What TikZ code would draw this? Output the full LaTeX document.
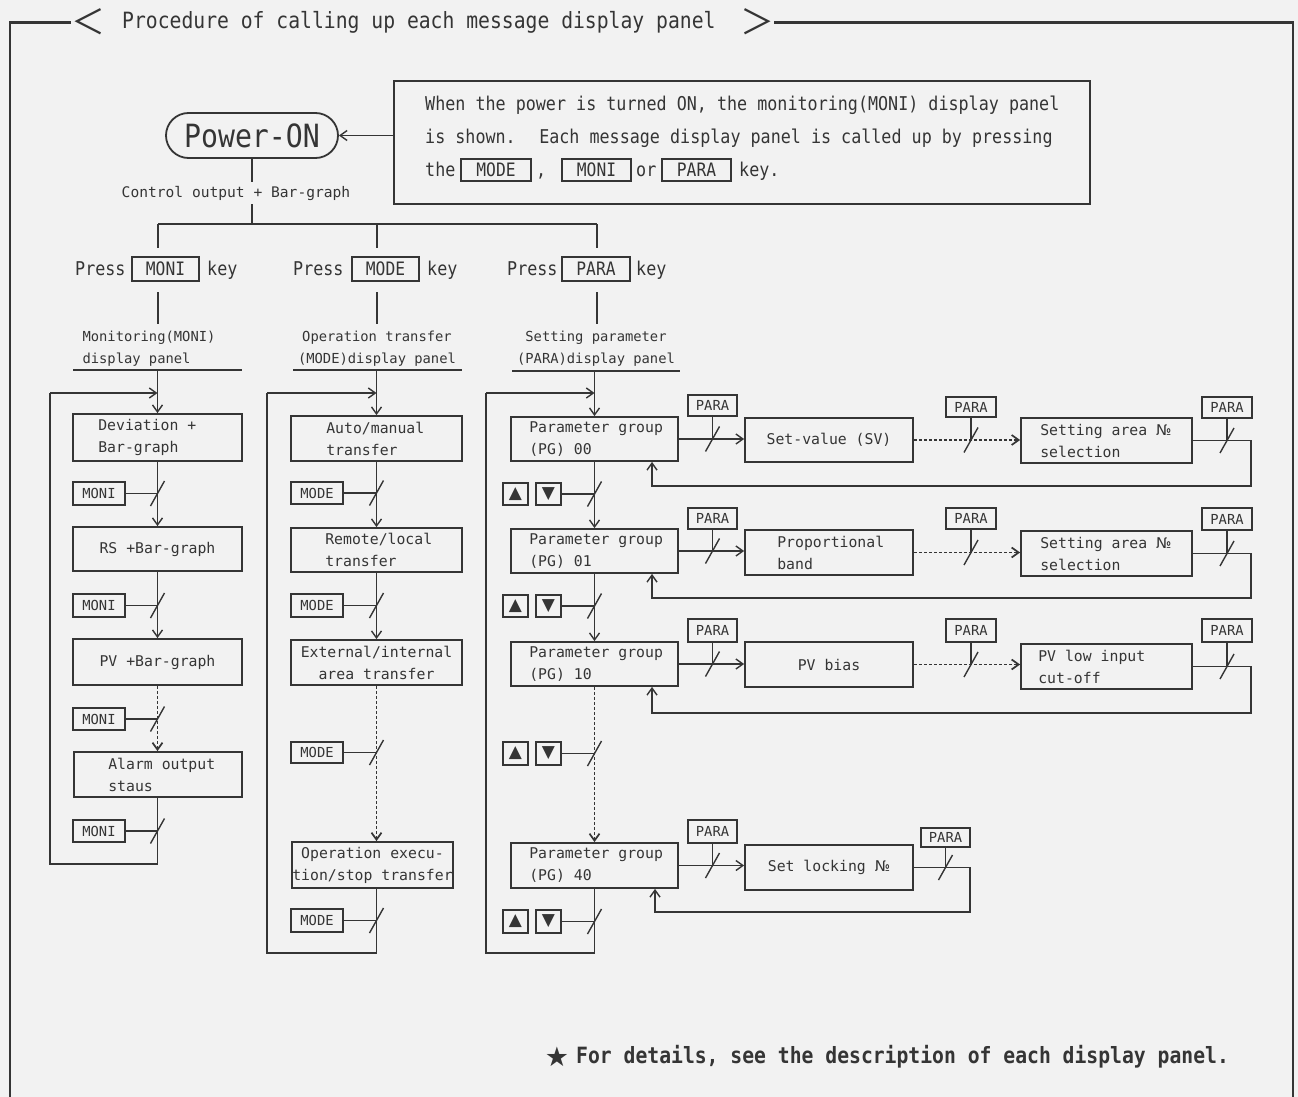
\documentclass[tikz,border=0pt]{standalone}
\usepackage{fontspec}
\usetikzlibrary{arrows.meta}
\newfontfamily\dm{DejaVu Sans Mono}
\newfontfamily\dmn[FakeStretch=0.88]{DejaVu Sans Mono}
\newfontfamily\dsans{DejaVu Sans}
\newfontfamily\cjkf{Noto Sans CJK JP}
\definecolor{ink}{HTML}{353535}
\definecolor{paper}{HTML}{F2F2F2}
\tikzset{kslash/.pic={\draw[draw=ink,line width=1.4pt] (-7,12.5) -- (7,-12.5);}}
\newcommand\bxl[7]{%
  \node[bx,minimum width={(#4)-(#2)},minimum height={(#5)-(#3)}] (#1) at ({((#2)+(#4))/2},{((#3)+(#5))/2}) {};
  \node[bt,anchor=west] (#1t) at ([xshift=#6]#1.west) {#7};}
\newcommand\bxc[6]{%
  \node[bx,bt,align=center,minimum width={(#4)-(#2)},minimum height={(#5)-(#3)}] (#1) at ({((#2)+(#4))/2},{((#3)+(#5))/2}) {#6};}
\newcommand\keyb[7][kb]{%
  \node[#1,minimum width={(#5)-(#3)},minimum height={(#6)-(#4)}] (#2) at ({((#3)+(#5))/2},{((#4)+(#6))/2}) {#7};}
\begin{document}
\begin{tikzpicture}[x=1pt,y=-1pt,
 ln/.style={draw=ink,line width=1.4pt},
 arr/.style={-{Straight Barb[length=7pt,width=10pt]}},
 dots/.style={line width=1.7pt,dash pattern=on 3pt off 2pt},
 bx/.style={draw=ink,line width=1.8pt,inner sep=0pt,text=ink},
 bt/.style={font=\dm\fontsize{14.8}{22}\selectfont,text=ink,align=left,inner sep=0pt},
 kb/.style={draw=ink,line width=1.3pt,inner sep=0pt,text=ink,font=\dm\fontsize{13.8}{14}\selectfont},
 kn/.style={kb,font=\dmn\fontsize{18.5}{18.5}\selectfont},
 tri/.style={kb,font=\dsans\fontsize{17}{17}\selectfont},
 lab/.style={font=\dm\fontsize{13.8}{22}\selectfont,text=ink,inner sep=0pt},
 nt/.style={font=\dmn\fontsize{19}{19}\selectfont,text=ink,inner sep=0pt,anchor=west,text height=13.5pt,text depth=4pt},
 frm/.style={draw=ink,line width=2.4pt},
]
\fill[paper] (0,0) rectangle (1298,1097);
\useasboundingbox (0,0) rectangle (1298,1097);

% ---------- frame and title
\coordinate (tl) at (10,22.5);
\coordinate (tr) at (1293,22.5);
\node[font=\cjkf\fontsize{34}{34}\selectfont,text=ink,inner sep=0pt] (ltri) at (88,22) {＜};
\node[font=\dmn\fontsize{22.4}{22.4}\selectfont,text=ink,inner sep=0pt,anchor=west,text height=15pt,text depth=4.5pt] (title) at (122,23) {Procedure of calling up each message display panel};
\node[font=\cjkf\fontsize{34}{34}\selectfont,text=ink,inner sep=0pt] (gtri) at (757,22) {＞};
\draw[frm] (10,1097) -- (tl) -- (ltri.west |- tl);
\draw[frm] (gtri.east |- tl) -- (tr) -- (1293,1097);

% ---------- Power-ON and note
\node[draw=ink,line width=1.8pt,rounded corners=22.5pt,minimum width=172,minimum height=45,inner sep=0pt,text=ink,font=\dmn\fontsize{32}{32}\selectfont] (pon) at (252,135.5) {Power-ON};
\node[draw=ink,line width=1.8pt,minimum width=696,minimum height=123,inner sep=0pt] (note) at (742,142.5) {};
\node[nt] (n1) at (425,106) {When the power is turned ON, the monitoring(MONI) display panel};
\node[nt] (n2) at (425,139) {is shown.~ Each message display panel is called up by pressing};
\node[nt] (n3a) at (425,172) {the};
\keyb[kn]{nk1}{461}{159}{531}{181}{MODE}
\node[nt] (n3b) at (536,172) {,};
\keyb[kn]{nk2}{562}{159}{631}{181}{MONI}
\node[nt] (n3c) at (636,172) {or};
\keyb[kn]{nk3}{662}{159}{731}{181}{PARA}
\node[nt] (n3d) at (739,172) {key.};
\draw[ln,arr] (note.west |- pon.east) -- (pon.east);

% ---------- branch
\node[lab,font=\dm\fontsize{14.6}{14.6}\selectfont] (ctl) at (236,193) {Control output + Bar-graph};
\coordinate (br) at (252,224);
\coordinate (brL) at (158,224);
\coordinate (brM) at (377,224);
\coordinate (brR) at (597,224);
\draw[ln] (pon.south) -- (252,182);
\draw[ln] (252,204) -- (br);
\draw[ln] (brL) -- (brR);
\draw[ln] (brL) -- (158,248);
\draw[ln] (brM) -- (377,248);
\draw[ln] (brR) -- (597,248);

\node[nt] (pr1) at (75,271) {Press};
\keyb[kn]{pk1}{132}{257}{199}{281}{MONI}
\node[nt] (ky1) at (207,271) {key};
\node[nt] (pr2) at (293,271) {Press};
\keyb[kn]{pk2}{352}{257}{419}{281}{MODE}
\node[nt] (ky2) at (427,271) {key};
\node[nt] (pr3) at (507,271) {Press};
\keyb[kn]{pk3}{562}{257}{630}{281}{PARA}
\node[nt] (ky3) at (636,271) {key};

\draw[ln] (158,292) -- (158,324);
\draw[ln] (377,292) -- (377,324);
\draw[ln] (597,292) -- (597,324);

\node[lab,align=left] (lab1) at (149,349) {Monitoring(MONI)\\display panel};
\draw[ln,line width=1.8pt] (73,370) -- (242,370);
\node[lab,align=center] (lab2) at (377,349) {Operation transfer\\(MODE)display panel};
\draw[ln,line width=1.8pt] (293,370) -- (462,370);
\node[lab,align=center] (lab3) at (596,349) {Setting parameter\\(PARA)display panel};
\draw[ln,line width=1.8pt] (512,371) -- (680,371);

% ---------- column 1 (MONI)
\bxl{dev}{73}{414}{242}{461}{26}{Deviation +\\Bar-graph}
\keyb{k1}{73}{482}{125}{505}{MONI}
\bxc{rs}{73}{527}{242}{571}{RS +Bar-graph}
\keyb{k2}{73}{594}{125}{617}{MONI}
\bxc{pv}{73}{639}{242}{685}{PV +Bar-graph}
\keyb{k3}{73}{708}{125}{730}{MONI}
\bxl{alm}{74}{752}{242}{797}{35}{Alarm output\\staus}
\keyb{k4}{73}{820}{125}{842}{MONI}

\coordinate (c1) at (157.5,370);
\coordinate (l1) at (50,393);
\coordinate (l1b) at (50,864);
\draw[ln,arr] (c1) -- (dev.north);
\draw[ln,arr] (l1) -- (l1 -| dev.north);
\draw[ln,arr] (dev.south) -- (rs.north);
\draw[ln] (k1.east) -- (k1.east -| dev.south); \pic at (k1.east -| dev.south) {kslash};
\draw[ln,arr] (rs.south) -- (pv.north);
\draw[ln] (k2.east) -- (k2.east -| rs.south); \pic at (k2.east -| rs.south) {kslash};
\draw[ln,dots,arr] (pv.south) -- (pv.south |- alm.north);
\draw[ln] (k3.east) -- (k3.east -| pv.south); \pic at (k3.east -| pv.south) {kslash};
\draw[ln] (pv.south |- alm.south) -- (pv.south |- l1b) -- (l1b) -- (l1);
\draw[ln] (k4.east) -- (k4.east -| pv.south); \pic at (k4.east -| pv.south) {kslash};

% ---------- column 2 (MODE)
\bxl{aut}{291}{416}{462}{461}{36}{Auto/manual\\transfer}
\keyb{m1}{291}{482}{343}{504}{MODE}
\bxl{rem}{291}{528}{462}{572}{35}{Remote/local\\transfer}
\keyb{m2}{291}{594}{343}{617}{MODE}
\bxc{ext}{291}{640}{462}{685}{External/internal\\area transfer}
\keyb{m3}{291}{742}{343}{763}{MODE}
\bxc{opx}{292}{842}{453}{888}{Operation execu-\\tion/stop transfer}
\keyb{m4}{291}{909}{343}{932}{MODE}

\coordinate (c2) at (376.5,370);
\coordinate (l2) at (267,393);
\coordinate (l2b) at (267,953);
\draw[ln,arr] (c2) -- (aut.north);
\draw[ln,arr] (l2) -- (l2 -| aut.north);
\draw[ln,arr] (aut.south) -- (rem.north);
\draw[ln] (m1.east) -- (m1.east -| aut.south); \pic at (m1.east -| aut.south) {kslash};
\draw[ln,arr] (rem.south) -- (ext.north);
\draw[ln] (m2.east) -- (m2.east -| rem.south); \pic at (m2.east -| rem.south) {kslash};
\draw[ln,dots,arr] (ext.south) -- (ext.south |- opx.north);
\draw[ln] (m3.east) -- (m3.east -| ext.south); \pic at (m3.east -| ext.south) {kslash};
\draw[ln] (ext.south |- opx.south) -- (ext.south |- l2b) -- (l2b) -- (l2);
\draw[ln] (m4.east) -- (m4.east -| ext.south); \pic at (m4.east -| ext.south) {kslash};

% ---------- column 3 (PARA)
\bxl{g0}{511}{417}{678}{461}{19}{Parameter group\\(PG) 00}
\keyb[tri]{u1}{503}{483}{528}{505}{▲}
\keyb[tri]{d1}{536}{483}{561}{505}{▼}
\bxl{g1}{511}{529}{678}{573}{19}{Parameter group\\(PG) 01}
\keyb[tri]{u2}{503}{595}{528}{617}{▲}
\keyb[tri]{d2}{536}{595}{561}{617}{▼}
\bxl{g2}{511}{642}{678}{686}{19}{Parameter group\\(PG) 10}
\keyb[tri]{u3}{503}{742}{528}{765}{▲}
\keyb[tri]{d3}{536}{742}{561}{765}{▼}
\bxl{g4}{511}{843}{678}{888}{19}{Parameter group\\(PG) 40}
\keyb[tri]{u4}{503}{910}{528}{933}{▲}
\keyb[tri]{d4}{536}{910}{561}{933}{▼}

\coordinate (c3) at (594.5,371);
\coordinate (l3) at (486,393);
\coordinate (l3b) at (486,953);
\draw[ln,arr] (c3) -- (g0.north);
\draw[ln,arr] (l3) -- (l3 -| g0.north);
\draw[ln,arr] (g0.south) -- (g1.north);
\draw[ln] (d1.east) -- (d1.east -| g0.south); \pic at (d1.east -| g0.south) {kslash};
\draw[ln,arr] (g1.south) -- (g2.north);
\draw[ln] (d2.east) -- (d2.east -| g1.south); \pic at (d2.east -| g1.south) {kslash};
\draw[ln,dots,arr] (g2.south) -- (g4.north);
\draw[ln] (d3.east) -- (d3.east -| g2.south); \pic at (d3.east -| g2.south) {kslash};
\draw[ln] (g4.south) -- (g4.south |- l3b) -- (l3b) -- (l3);
\draw[ln] (d4.east) -- (d4.east -| g4.south); \pic at (d4.east -| g4.south) {kslash};

% ---------- row 1
\bxc{sv}{745}{418}{913}{462}{Set-value (SV)}
\bxl{sa1}{1021}{418}{1192}{463}{20}{Setting area {\dsans №}\\selection}
\keyb{p1}{688}{395}{737}{416}{PARA}
\keyb{p2}{946}{397}{996}{417}{PARA}
\keyb{p3}{1202}{397}{1252}{418}{PARA}
\draw[ln,arr] (g0.east) -- (g0.east -| sv.west);
\draw[ln] (p1.south) -- (p1.south |- g0.east); \pic at (p1.south |- g0.east) {kslash};
\draw[ln,dots,arr] (sv.east) -- (sv.east -| sa1.west);
\draw[ln] (p2.south) -- (p2.south |- sv.east); \pic at (p2.south |- sv.east) {kslash};
\coordinate (r1b) at (1251,486);
\coordinate (r1c) at (652,486);
\draw[ln,arr] (sa1.east) -- (sa1.east -| r1b) -- (r1b) -- (r1c) -- (r1c |- g0.south);
\draw[ln] (p3.south) -- (p3.south |- sa1.east); \pic at (p3.south |- sa1.east) {kslash};

% ---------- row 2
\bxl{pb}{745}{530}{913}{575}{33}{Proportional\\band}
\bxl{sa2}{1021}{531}{1192}{576}{20}{Setting area {\dsans №}\\selection}
\keyb{p4}{688}{508}{737}{529}{PARA}
\keyb{p5}{946}{508}{996}{529}{PARA}
\keyb{p6}{1202}{508}{1252}{530}{PARA}
\draw[ln,arr] (g1.east) -- (g1.east -| pb.west);
\draw[ln] (p4.south) -- (p4.south |- g1.east); \pic at (p4.south |- g1.east) {kslash};
\draw[ln,dots,arr] (pb.east) -- (pb.east -| sa2.west);
\draw[ln] (p5.south) -- (p5.south |- pb.east); \pic at (p5.south |- pb.east) {kslash};
\coordinate (r2b) at (1251,598);
\coordinate (r2c) at (652,598);
\draw[ln,arr] (sa2.east) -- (sa2.east -| r2b) -- (r2b) -- (r2c) -- (r2c |- g1.south);
\draw[ln] (p6.south) -- (p6.south |- sa2.east); \pic at (p6.south |- sa2.east) {kslash};

% ---------- row 3
\bxc{pvb}{745}{642}{913}{687}{PV bias}
\bxl{pvl}{1021}{644}{1192}{689}{18}{PV low input\\cut-off}
\keyb{p7}{688}{619}{737}{642}{PARA}
\keyb{p8}{946}{619}{996}{642}{PARA}
\keyb{p9}{1202}{619}{1252}{642}{PARA}
\draw[ln,arr] (g2.east) -- (g2.east -| pvb.west);
\draw[ln] (p7.south) -- (p7.south |- g2.east); \pic at (p7.south |- g2.east) {kslash};
\draw[ln,dots,arr] (pvb.east) -- (pvb.east -| pvl.west);
\draw[ln] (p8.south) -- (p8.south |- pvb.east); \pic at (p8.south |- pvb.east) {kslash};
\coordinate (r3b) at (1251,713);
\coordinate (r3c) at (652,713);
\draw[ln,arr] (pvl.east) -- (pvl.east -| r3b) -- (r3b) -- (r3c) -- (r3c |- g2.south);
\draw[ln] (p9.south) -- (p9.south |- pvl.east); \pic at (p9.south |- pvl.east) {kslash};

% ---------- row 4
\bxc{slk}{745}{845}{913}{890}{Set locking {\dsans №}}
\keyb{p10}{688}{820}{737}{843}{PARA}
\keyb{p11}{921}{828}{970}{847}{PARA}
\draw[ln,arr] (g4.east) -- (g4.east -| slk.west);
\draw[ln] (p10.south) -- (p10.south |- g4.east); \pic at (p10.south |- g4.east) {kslash};
\coordinate (r4b) at (970,912);
\coordinate (r4c) at (655,912);
\draw[ln,arr] (slk.east) -- (slk.east -| r4b) -- (r4b) -- (r4c) -- (r4c |- g4.south);
\draw[ln] (p11.south) -- (p11.south |- slk.east); \pic at (p11.south |- slk.east) {kslash};

% ---------- footnote
\node[font=\dsans\fontsize{27}{27}\selectfont,text=ink,inner sep=0pt] (star) at (557,1057) {★};
\node[font=\dmn\bfseries\fontsize{22.4}{22.4}\selectfont,text=ink,inner sep=0pt,anchor=west] (foot) at (576,1057) {For details, see the description of each display panel.};
\end{tikzpicture}
\end{document}
